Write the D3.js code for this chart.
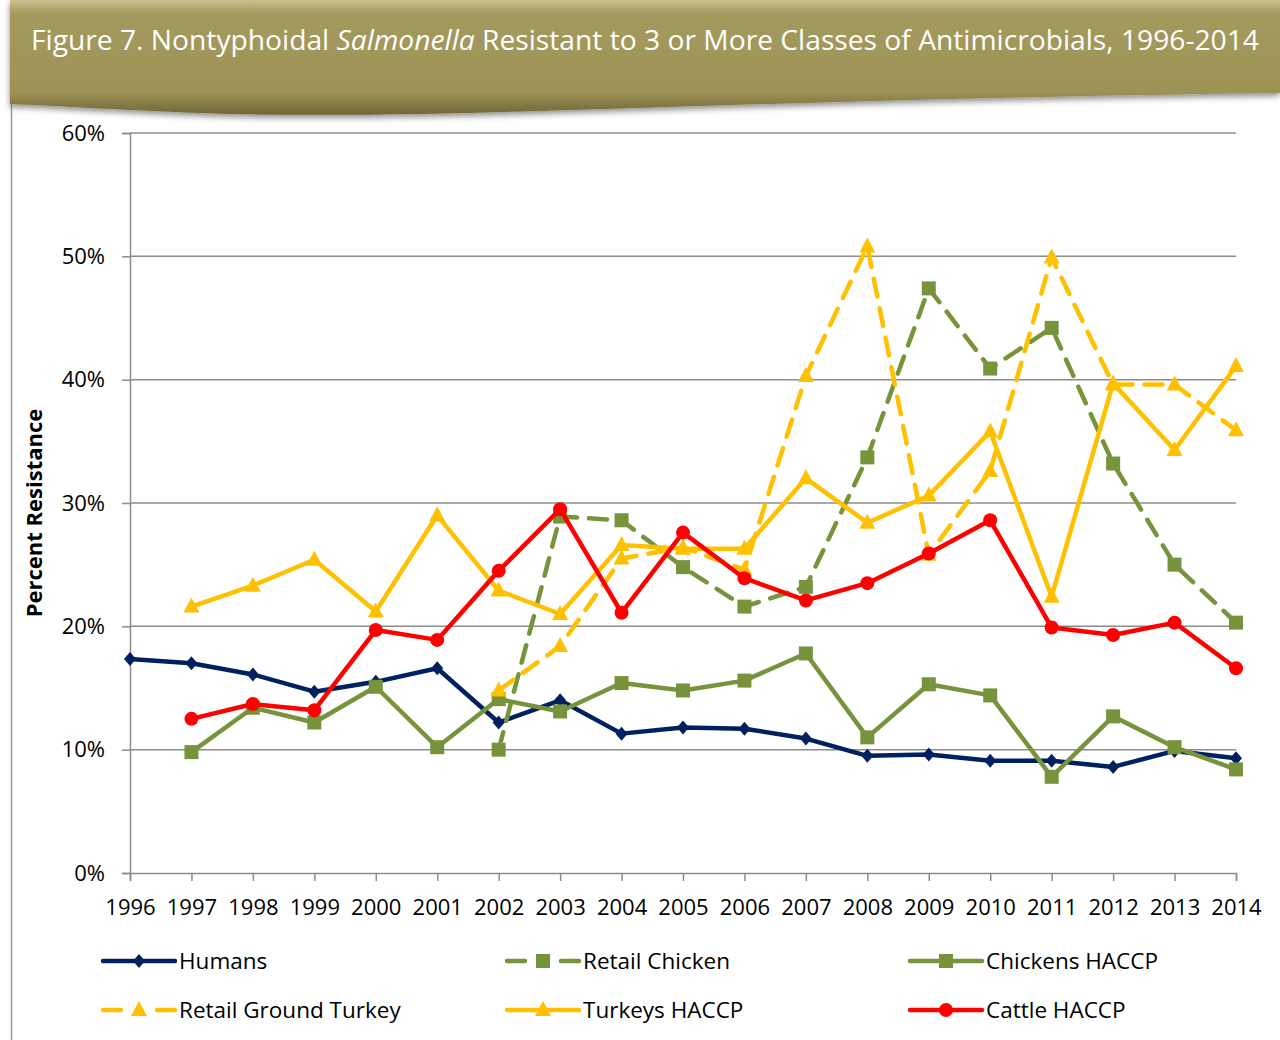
<!DOCTYPE html>
<html>
<head>
<meta charset="utf-8">
<script src="https://cdn.jsdelivr.net/npm/d3@7"></script>
<style>
  body { margin: 0; background: #fff; }
  svg { display: block; }
</style>
</head>
<body>
<div id="chart"></div>
<script>
// Data
const years = d3.range(1996, 2015);
const humans = [17.35, 17.0, 16.1, 14.7, 15.5, 16.6, 12.2, 14.0, 11.3, 11.8, 11.7, 10.9, 9.5, 9.6, 9.1, 9.1, 8.6, 9.9, 9.3];
const retailChicken = [null, null, null, null, null, null, 10.0, 28.9, 28.6, 24.8, 21.6, 23.2, 33.7, 47.4, 40.9, 44.2, 33.2, 25.0, 20.3];
const chickensHaccp = [null, 9.8, 13.4, 12.2, 15.1, 10.2, 14.1, 13.1, 15.4, 14.8, 15.6, 17.8, 11.0, 15.3, 14.4, 7.8, 12.7, 10.2, 8.4];
const retailTurkey = [null, null, null, null, null, null, 14.8, 18.4, 25.5, 26.4, 24.6, 40.3, 50.8, 25.8, 32.6, 49.9, 39.6, 39.6, 35.9];
const turkeysHaccp = [null, 21.6, 23.3, 25.4, 21.2, 29.0, 22.9, 21.0, 26.6, 26.3, 26.3, 32.0, 28.4, 30.6, 35.8, 22.4, 39.7, 34.3, 41.1];
const cattleHaccp = [null, 12.5, 13.7, 13.2, 19.7, 18.9, 24.5, 29.5, 21.1, 27.6, 23.9, 22.1, 23.5, 25.9, 28.6, 19.9, 19.3, 20.3, 16.6];
const yTicks = [0, 10, 20, 30, 40, 50, 60];

const series = [
  { name: "Humans", values: humans, color: "#002060", dash: null, marker: "diamond" },
  { name: "Retail Chicken", values: retailChicken, color: "#77933c", dash: "18,12", marker: "square" },
  { name: "Chickens HACCP", values: chickensHaccp, color: "#77933c", dash: null, marker: "square" },
  { name: "Retail Ground Turkey", values: retailTurkey, color: "#ffc000", dash: "18,12", marker: "triangle" },
  { name: "Turkeys HACCP", values: turkeysHaccp, color: "#ffc000", dash: null, marker: "triangle" },
  { name: "Cattle HACCP", values: cattleHaccp, color: "#ff0000", dash: null, marker: "circle" }
];

const width = 1280;
const height = 1040;
const margin = { top: 133, right: 44, bottom: 167, left: 130 };
const font = "'Open Sans', sans-serif";

const svg = d3.select("#chart")
    .append("svg")
    .attr("width", width)
    .attr("height", height);

// Banner
const defs = svg.append("defs");
const grad = defs.append("linearGradient")
    .attr("id", "banner")
    .attr("x1", 0).attr("y1", 0).attr("x2", 0).attr("y2", 1);
grad.append("stop").attr("offset", "0%").attr("stop-color", "#c9c18c");
grad.append("stop").attr("offset", "12%").attr("stop-color", "#a59a5e");
grad.append("stop").attr("offset", "80%").attr("stop-color", "#9e9356");
grad.append("stop").attr("offset", "100%").attr("stop-color", "#6f6636");

const shadow = defs.append("filter").attr("id", "shadow")
    .attr("x", "-5%").attr("y", "-5%").attr("width", "110%").attr("height", "130%");
shadow.append("feDropShadow")
    .attr("dx", 0).attr("dy", 3).attr("stdDeviation", 3)
    .attr("flood-color", "#000").attr("flood-opacity", 0.45);

// page frame line on the left
svg.append("line")
    .attr("x1", 11.5).attr("x2", 11.5)
    .attr("y1", 100).attr("y2", height)
    .attr("stroke", "#999").attr("stroke-width", 1.5);

svg.append("path")
    .attr("d", "M10,0 L1280,0 L1280,93 C1100,95 900,100 700,106 C500,112 350,118 200,113 C120,110 60,106 10,104 Z")
    .attr("fill", "url(#banner)")
    .attr("filter", "url(#shadow)");

const title = svg.append("text")
    .attr("x", 645)
    .attr("y", 50)
    .attr("text-anchor", "middle")
    .attr("fill", "#fff")
    .attr("font-family", font)
    .attr("font-size", 27)
    .attr("textLength", 1228)
    .attr("lengthAdjust", "spacingAndGlyphs");
title.append("tspan").text("Figure 7. Nontyphoidal ");
title.append("tspan").attr("font-style", "italic").text("Salmonella");
title.append("tspan").text(" Resistant to 3 or More Classes of Antimicrobials, 1996-2014");

// Scales
const x = d3.scaleLinear()
    .domain([1996, 2014])
    .range([margin.left, width - margin.right]);

const y = d3.scaleLinear()
    .domain([0, 60])
    .range([height - margin.bottom, margin.top]);

// Gridlines
svg.append("g")
    .selectAll("line")
    .data(yTicks.filter(d => d > 0))
    .join("line")
    .attr("x1", x(1996))
    .attr("x2", x(2014))
    .attr("y1", d => y(d))
    .attr("y2", d => y(d))
    .attr("stroke", "#8c8c8c")
    .attr("stroke-width", 1.5);

// Axes
const yAxis = svg.append("g")
    .attr("transform", `translate(${margin.left},0)`)
    .call(d3.axisLeft(y).tickValues(yTicks).tickFormat(d => d + "%").tickSize(8).tickPadding(17));

const xAxis = svg.append("g")
    .attr("transform", `translate(0,${y(0)})`)
    .call(d3.axisBottom(x).tickValues(years).tickFormat(d3.format("d")).tickSize(8).tickPadding(18));

[xAxis, yAxis].forEach(ax => {
  ax.select(".domain").attr("stroke", "#8c8c8c").attr("stroke-width", 1.5);
  ax.selectAll(".tick line").attr("stroke", "#8c8c8c").attr("stroke-width", 1.5);
  ax.selectAll(".tick text")
    .attr("fill", "#000")
    .attr("font-family", font)
    .attr("font-size", 22);
});

// Y axis title
svg.append("text")
    .attr("transform", `translate(42,${(y(0) + y(60)) / 2 + 10}) rotate(-90)`)
    .attr("text-anchor", "middle")
    .attr("font-family", font)
    .attr("font-weight", "bold")
    .attr("font-size", 22)
    .text("Percent Resistance");

// Markers
function drawMarker(g, type, color, cx, cy) {
  if (type === "diamond") {
    g.append("path")
      .attr("d", `M${cx},${cy - 7} L${cx + 6},${cy} L${cx},${cy + 7} L${cx - 6},${cy} Z`)
      .attr("fill", color);
  } else if (type === "square") {
    g.append("rect")
      .attr("x", cx - 7).attr("y", cy - 7)
      .attr("width", 14).attr("height", 14)
      .attr("fill", color);
  } else if (type === "triangle") {
    g.append("path")
      .attr("d", `M${cx},${cy - 9} L${cx + 8},${cy + 6} L${cx - 8},${cy + 6} Z`)
      .attr("fill", color);
  } else {
    g.append("circle")
      .attr("cx", cx).attr("cy", cy).attr("r", 7)
      .attr("fill", color);
  }
}

const line = d3.line()
    .defined(d => d.v != null)
    .x(d => x(d.year))
    .y(d => y(d.v));

series.forEach(s => {
  const pts = years.map((year, i) => ({ year, v: s.values[i] }));
  const g = svg.append("g");
  g.append("path")
    .datum(pts)
    .attr("fill", "none")
    .attr("stroke", s.color)
    .attr("stroke-width", 4.5)
    .attr("stroke-linejoin", "round")
    .attr("stroke-linecap", s.dash ? "round" : "butt")
    .attr("stroke-dasharray", s.dash)
    .attr("d", line);
  pts.filter(d => d.v != null).forEach(d => drawMarker(g, s.marker, s.color, x(d.year), y(d.v)));
});

// Legend
const legendCols = [103, 507, 910];
const legendRows = [961, 1010];
series.forEach((s, i) => {
  const lx = legendCols[i % 3];
  const ly = legendRows[Math.floor(i / 3)];
  const g = svg.append("g");
  g.append("line")
    .attr("x1", lx).attr("x2", lx + 72)
    .attr("y1", ly).attr("y2", ly)
    .attr("stroke", s.color)
    .attr("stroke-width", 4.5)
    .attr("stroke-linecap", "round")
    .attr("stroke-dasharray", s.dash ? "18,36,18" : null);
  drawMarker(g, s.marker, s.color, lx + 36, ly);
  g.append("text")
    .attr("x", lx + 76)
    .attr("y", ly + 8)
    .attr("font-family", font)
    .attr("font-size", 22.5)
    .text(s.name);
});
</script>
</body>
</html>
